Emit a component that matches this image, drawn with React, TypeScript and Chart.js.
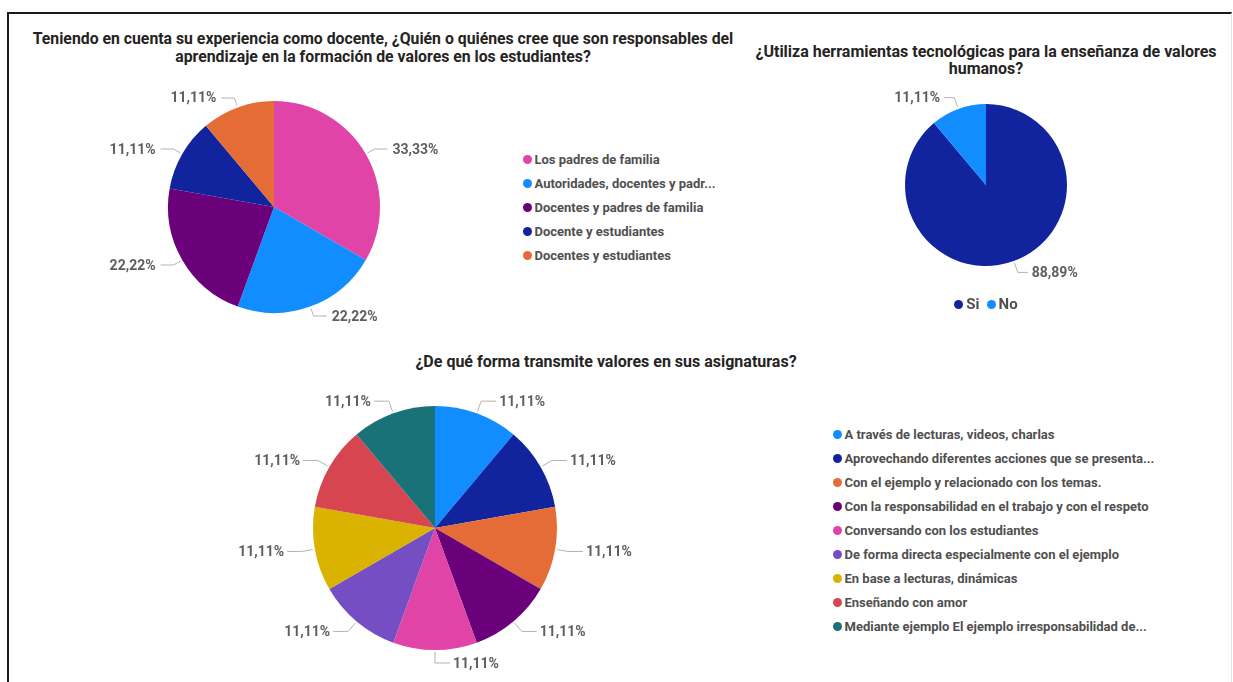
import React, { useEffect, useRef } from "react";
import { Chart, registerables } from "chart.js";

Chart.register(...registerables);

// ---------- Data ----------
const q1Title = [
  "Teniendo en cuenta su experiencia como docente, ¿Quién o quiénes cree que son responsables del",
  "aprendizaje en la formación de valores en los estudiantes?",
];
const q1Categories = [
  "Los padres de familia",
  "Autoridades, docentes y padr...",
  "Docentes y padres de familia",
  "Docente y estudiantes",
  "Docentes y estudiantes",
];
const q1Values = [3, 2, 2, 1, 1];
const q1Colors = ["#E044A7", "#118DFF", "#6B007B", "#12239E", "#E66C37"];

const q2Title = [
  "¿Utiliza herramientas tecnológicas para la enseñanza de valores",
  "humanos?",
];
const q2Categories = ["Si", "No"];
const q2Values = [8, 1];
const q2Colors = ["#12239E", "#118DFF"];

const q3Title = ["¿De qué forma transmite valores en sus asignaturas?"];
const q3Categories = [
  "A través de lecturas, videos, charlas",
  "Aprovechando diferentes acciones que se presenta...",
  "Con el ejemplo y relacionado con los temas.",
  "Con la responsabilidad en el trabajo y con el respeto",
  "Conversando con los estudiantes",
  "De forma directa especialmente con el ejemplo",
  "En base a lecturas, dinámicas",
  "Enseñando con amor",
  "Mediante ejemplo El ejemplo irresponsabilidad de...",
];
const q3Values = [1, 1, 1, 1, 1, 1, 1, 1, 1];
const q3Colors = [
  "#118DFF",
  "#12239E",
  "#E66C37",
  "#6B007B",
  "#E044A7",
  "#744EC2",
  "#D9B300",
  "#D64550",
  "#197278",
];

const TITLE_COLOR = "#252423";
const LABEL_COLOR = "#605E5C";
const LEGEND_COLOR = "#4f4f4f";
const FONT = "Roboto, 'DejaVu Sans', sans-serif";

type LeaderOpts = { ext: number; h: number; pad: number; font: string };

function fmtPct(v: number, total: number) {
  return ((v / total) * 100).toFixed(2).replace(".", ",") + "%";
}

function makeLeaderPlugin(o: LeaderOpts) {
  return {
    id: "leaderLabels",
    afterDatasetsDraw(chart: any) {
      const ctx = chart.ctx as CanvasRenderingContext2D;
      const meta = chart.getDatasetMeta(0);
      const data = chart.data.datasets[0].data as number[];
      const total = data.reduce((a, b) => a + b, 0);
      ctx.save();
      meta.data.forEach((arc: any, i: number) => {
        const p = arc.getProps(["x", "y", "startAngle", "endAngle", "outerRadius"], true);
        const mid = (p.startAngle + p.endAngle) / 2;
        const c = Math.cos(mid);
        const s = Math.sin(mid);
        const r0 = p.outerRadius + 2;
        const r1 = p.outerRadius + o.ext;
        const x0 = p.x + c * r0;
        const y0 = p.y + s * r0;
        const x1 = p.x + c * r1;
        const y1 = p.y + s * r1;
        const dir = c >= -1e-9 ? 1 : -1;
        const x2 = x1 + dir * o.h;
        ctx.strokeStyle = "#b3b3b3";
        ctx.lineWidth = 1;
        ctx.beginPath();
        ctx.moveTo(x0, y0);
        ctx.lineTo(x1, y1);
        ctx.lineTo(x2, y1);
        ctx.stroke();
        ctx.fillStyle = LABEL_COLOR;
        ctx.font = o.font;
        ctx.textBaseline = "middle";
        ctx.textAlign = dir > 0 ? "left" : "right";
        ctx.fillText(fmtPct(data[i], total), x2 + dir * o.pad, y1 + 1);
      });
      ctx.restore();
    },
  };
}

function PieCanvas(props: {
  values: number[];
  labels: string[];
  colors: string[];
  cx: number;
  cy: number;
  r: number;
  pad: number;
  leader: LeaderOpts;
}) {
  const ref = useRef<HTMLCanvasElement | null>(null);
  const size = 2 * (props.r + props.pad);
  useEffect(() => {
    if (!ref.current) return;
    const chart = new Chart(ref.current, {
      type: "pie",
      data: {
        labels: props.labels,
        datasets: [
          {
            data: props.values,
            backgroundColor: props.colors,
            borderWidth: 0,
            hoverOffset: 0,
          },
        ],
      },
      options: {
        responsive: false,
        animation: false,
        devicePixelRatio: 1,
        layout: { padding: props.pad },
        plugins: {
          legend: { display: false },
          tooltip: { enabled: false },
          title: { display: false },
        },
        events: [],
      },
      plugins: [makeLeaderPlugin(props.leader)],
    });
    return () => chart.destroy();
  }, []);
  return (
    <canvas
      ref={ref}
      width={size}
      height={size}
      style={{
        position: "absolute",
        left: props.cx - size / 2,
        top: props.cy - size / 2,
        width: size,
        height: size,
      }}
    />
  );
}

function Title(props: { lines: string[]; cx: number; top: number; lh: number; size: number }) {
  return (
    <div
      style={{
        position: "absolute",
        left: props.cx - 450,
        width: 900,
        top: props.top,
        textAlign: "center",
        fontFamily: FONT,
        fontWeight: 700,
        fontSize: props.size,
        lineHeight: props.lh + "px",
        color: TITLE_COLOR,
        whiteSpace: "nowrap",
      }}
    >
      {props.lines.map((l, i) => (
        <div key={i}>{l}</div>
      ))}
    </div>
  );
}

function VLegend(props: { labels: string[]; colors: string[]; dotX: number; y0: number; step: number; size: number }) {
  return (
    <>
      {props.labels.map((l, i) => (
        <div
          key={i}
          style={{
            position: "absolute",
            left: props.dotX - 4.5,
            top: props.y0 + i * props.step - 10,
            height: 20,
            display: "flex",
            alignItems: "center",
            whiteSpace: "nowrap",
            fontFamily: FONT,
            fontWeight: 700,
            fontSize: props.size,
            color: LEGEND_COLOR,
          }}
        >
          <span
            style={{
              display: "inline-block",
              width: 9,
              height: 9,
              borderRadius: 5,
              background: props.colors[i],
              marginRight: 3,
            }}
          />
          <span>{l}</span>
        </div>
      ))}
    </>
  );
}

export default function App() {
  return (
    <div
      style={{
        position: "absolute",
        left: 0,
        top: 0,
        width: 1233,
        height: 682,
        overflow: "hidden",
        background: "#ffffff",
      }}
    >
      {/* frame */}
      <div
        style={{
          position: "absolute",
          left: 7,
          top: 12,
          width: 1222,
          height: 700,
          borderLeft: "2px solid #1a1a1a",
          borderTop: "2px solid #1a1a1a",
          borderRight: "1px solid #e4e4e4",
        }}
      />

      <Title lines={q1Title} cx={383} top={30} lh={18} size={15.8} />
      <Title lines={q2Title} cx={986} top={43} lh={17} size={16} />
      <Title lines={q3Title} cx={606} top={353} lh={18} size={16} />

      <PieCanvas
        values={q1Values}
        labels={q1Categories}
        colors={q1Colors}
        cx={274}
        cy={207}
        r={106}
        pad={80}
        leader={{ ext: 10, h: 13, pad: 5, font: `700 14px ${FONT}` }}
      />
      <PieCanvas
        values={q2Values}
        labels={q2Categories}
        colors={q2Colors}
        cx={986}
        cy={185}
        r={81}
        pad={70}
        leader={{ ext: 12, h: 10, pad: 4, font: `700 14px ${FONT}` }}
      />
      <PieCanvas
        values={q3Values}
        labels={q3Categories}
        colors={q3Colors}
        cx={435}
        cy={528}
        r={122}
        pad={80}
        leader={{ ext: 13, h: 15, pad: 3, font: `700 14px ${FONT}` }}
      />

      <VLegend labels={q1Categories} colors={q1Colors} dotX={527} y0={159} step={24.2} size={13} />
      <VLegend labels={q3Categories} colors={q3Colors} dotX={837} y0={434} step={24.1} size={13} />

      {/* horizontal legend for q2 */}
      <div
        style={{
          position: "absolute",
          left: 986 - 100,
          width: 200,
          top: 294,
          height: 20,
          display: "flex",
          justifyContent: "center",
          alignItems: "center",
          fontFamily: FONT,
          fontWeight: 700,
          fontSize: 15,
          color: LEGEND_COLOR,
          whiteSpace: "nowrap",
        }}
      >
        {q2Categories.map((l, i) => (
          <span key={i} style={{ display: "inline-flex", alignItems: "center", marginLeft: i ? 7 : 0 }}>
            <span
              style={{
                display: "inline-block",
                width: 9,
                height: 9,
                borderRadius: 5,
                background: q2Colors[i],
                marginRight: 3,
              }}
            />
            {l}
          </span>
        ))}
      </div>
    </div>
  );
}
